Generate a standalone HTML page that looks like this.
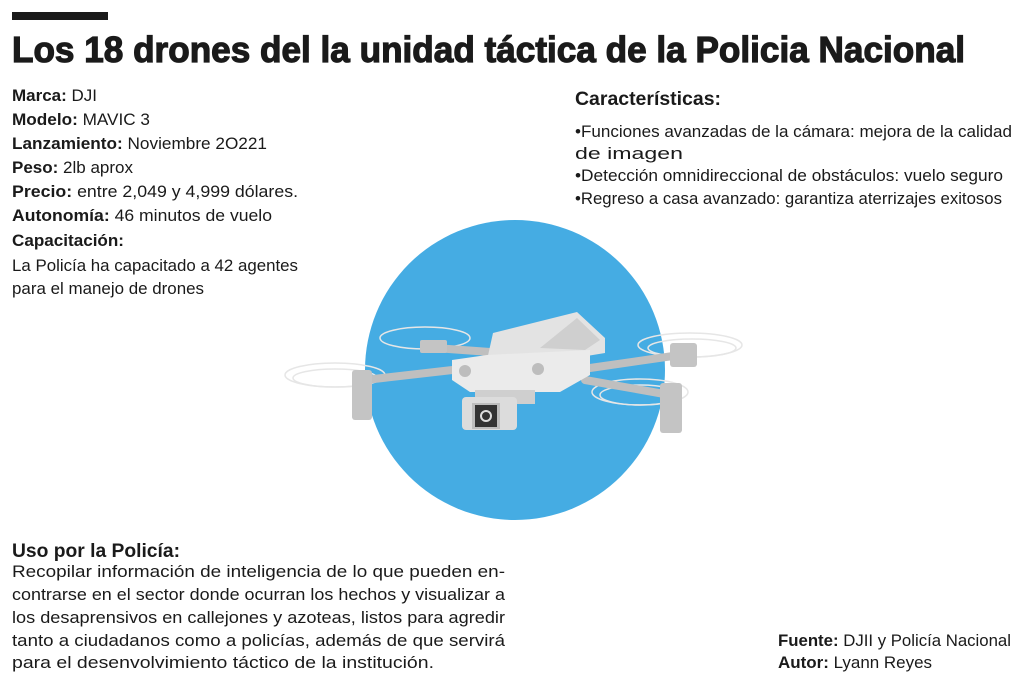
<!DOCTYPE html>
<html><head><meta charset="utf-8"><style>
html,body{margin:0;padding:0;background:#fff;}
svg{display:block;}
text{font-family:"Liberation Sans",sans-serif;fill:#1a1a1a;}
.b{font-weight:bold;}
</style></head><body>
<svg width="1024" height="689" viewBox="0 0 1024 689" xmlns="http://www.w3.org/2000/svg">
<rect x="12" y="12" width="96" height="8" fill="#1a1a1a"/>
<text x="12" y="62" class="b" font-size="36" stroke="#1a1a1a" stroke-width="1.2" textLength="953" lengthAdjust="spacingAndGlyphs">Los 18 drones del  la unidad táctica de la Policia Nacional</text>

<g font-size="16.5">
<text x="12" y="101" textLength="85" lengthAdjust="spacingAndGlyphs"><tspan class="b">Marca:</tspan> DJI</text>
<text x="12" y="125" textLength="138" lengthAdjust="spacingAndGlyphs"><tspan class="b">Modelo:</tspan> MAVIC 3</text>
<text x="12" y="149" textLength="255" lengthAdjust="spacingAndGlyphs"><tspan class="b">Lanzamiento:</tspan> Noviembre 2O221</text>
<text x="12" y="173" textLength="121" lengthAdjust="spacingAndGlyphs"><tspan class="b">Peso:</tspan> 2lb aprox</text>
<text x="12" y="197" textLength="286" lengthAdjust="spacingAndGlyphs"><tspan class="b">Precio:</tspan> entre 2,049 y 4,999 dólares.</text>
<text x="12" y="221" textLength="260" lengthAdjust="spacingAndGlyphs"><tspan class="b">Autonomía:</tspan> 46 minutos de vuelo</text>
<text x="12" y="246" class="b" textLength="112" lengthAdjust="spacingAndGlyphs">Capacitación:</text>
<text x="12" y="271" textLength="286" lengthAdjust="spacingAndGlyphs">La Policía ha capacitado a 42 agentes</text>
<text x="12" y="294" textLength="192" lengthAdjust="spacingAndGlyphs">para el manejo de drones</text>

<text x="575" y="105" class="b" font-size="19" textLength="146" lengthAdjust="spacingAndGlyphs">Características:</text>
<text x="575" y="137" textLength="437" lengthAdjust="spacingAndGlyphs">•Funciones avanzadas de la cámara: mejora de la calidad</text>
<text x="575" y="159" textLength="108" lengthAdjust="spacingAndGlyphs">de imagen</text>
<text x="575" y="181" textLength="428" lengthAdjust="spacingAndGlyphs">•Detección omnidireccional de obstáculos: vuelo seguro</text>
<text x="575" y="204" textLength="427" lengthAdjust="spacingAndGlyphs">•Regreso a casa avanzado: garantiza aterrizajes exitosos</text>

<text x="12" y="557" class="b" font-size="19" textLength="168" lengthAdjust="spacingAndGlyphs">Uso por la Policía:</text>
<g font-size="17">
<text x="12" y="577" textLength="493" lengthAdjust="spacingAndGlyphs">Recopilar información de inteligencia de lo que pueden en-</text>
<text x="12" y="600" textLength="493" lengthAdjust="spacingAndGlyphs">contrarse en el sector donde ocurran los hechos y visualizar a</text>
<text x="12" y="623" textLength="493" lengthAdjust="spacingAndGlyphs">los desaprensivos en callejones y azoteas, listos para agredir</text>
<text x="12" y="646" textLength="493" lengthAdjust="spacingAndGlyphs">tanto a ciudadanos como a policías, además de que servirá</text>
<text x="12" y="668" textLength="422" lengthAdjust="spacingAndGlyphs">para el desenvolvimiento táctico de la institución.</text>
</g>

<text x="778" y="646" textLength="233" lengthAdjust="spacingAndGlyphs"><tspan class="b">Fuente:</tspan> DJII y Policía Nacional</text>
<text x="778" y="668" textLength="154" lengthAdjust="spacingAndGlyphs"><tspan class="b">Autor:</tspan> Lyann Reyes</text>
</g>

<circle cx="515" cy="370" r="150" fill="#45ace3"/>

<g fill="none" stroke="#e6e6e6" stroke-width="1.5">
<ellipse cx="335" cy="375" rx="50" ry="12"/>
<ellipse cx="335" cy="378" rx="42" ry="9"/>
<ellipse cx="425" cy="338" rx="45" ry="11"/>
<ellipse cx="690" cy="345" rx="52" ry="12"/>
<ellipse cx="692" cy="348" rx="44" ry="9"/>
<ellipse cx="640" cy="392" rx="48" ry="13"/>
<ellipse cx="640" cy="395" rx="40" ry="10"/>
</g>
<g stroke="#bfbfbf" stroke-width="8" stroke-linecap="round">
<line x1="365" y1="380" x2="470" y2="368"/>
<line x1="435" y1="348" x2="490" y2="352"/>
<line x1="680" y1="355" x2="590" y2="368"/>
<line x1="670" y1="395" x2="585" y2="380"/>
</g>
<g fill="#c4c4c4">
<rect x="352" y="370" width="20" height="50" rx="3"/>
<rect x="420" y="340" width="27" height="13" rx="2"/>
<rect x="670" y="343" width="27" height="24" rx="3"/>
<rect x="660" y="383" width="22" height="50" rx="3"/>
</g>
<polygon points="493,333 577,312 605,338 605,353 520,367 487,360" fill="#e3e3e3"/>
<polygon points="540,348 577,318 600,340 585,350" fill="#cfcfcf"/>
<polygon points="452,360 487,355 590,350 590,375 560,392 470,392 452,380" fill="#ebebeb"/>
<circle cx="465" cy="371" r="6" fill="#bdbdbd"/>
<circle cx="538" cy="369" r="6" fill="#bdbdbd"/>
<rect x="475" y="390" width="60" height="14" fill="#cfcfcf"/>
<rect x="462" y="397" width="55" height="33" rx="4" fill="#dcdcdc"/>
<rect x="472" y="403" width="28" height="26" fill="#bdbdbd"/>
<rect x="475" y="405" width="22" height="22" fill="#333"/>
<circle cx="486" cy="416" r="5" fill="none" stroke="#ddd" stroke-width="2"/>
</svg>
</body></html>
